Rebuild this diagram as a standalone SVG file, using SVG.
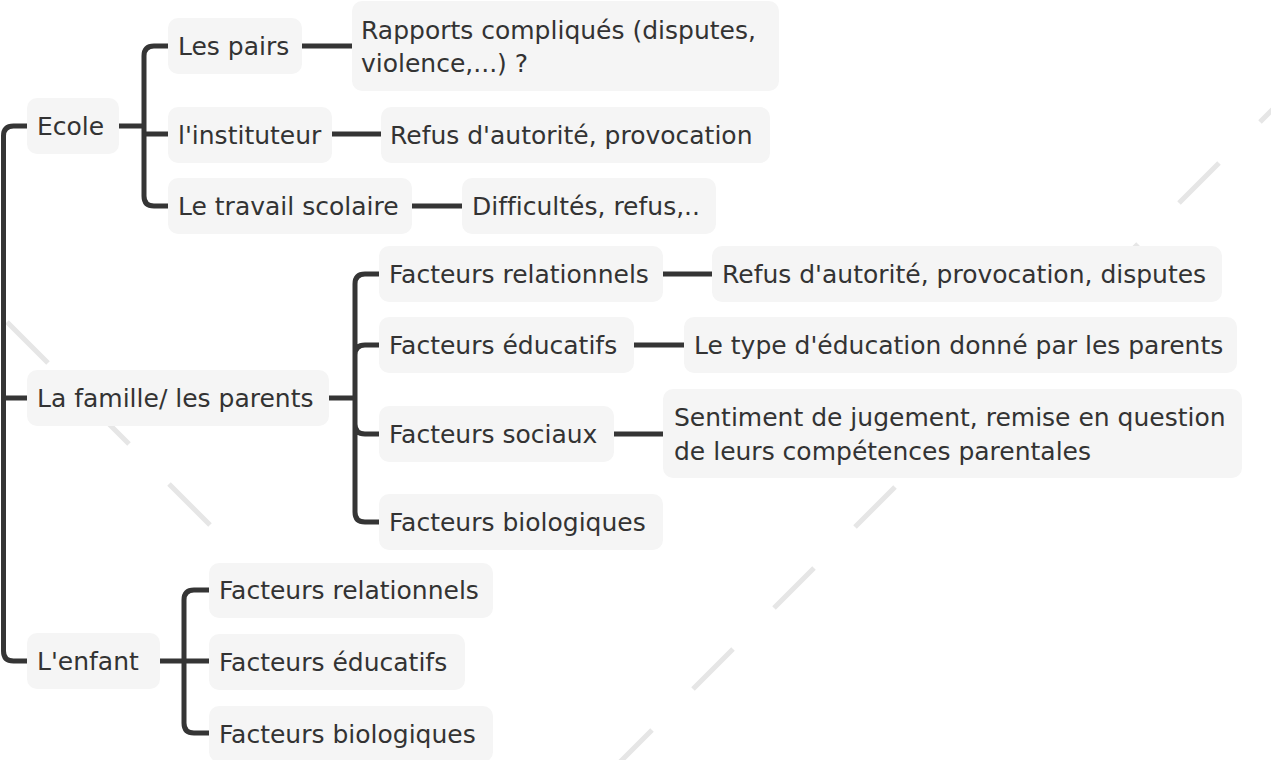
<svg xmlns="http://www.w3.org/2000/svg" width="1271" height="760" viewBox="0 0 1271 760">
<style>
.bg{stroke:#e6e6e6;stroke-width:5;fill:none}
.n rect{fill:#f5f5f5}
.n text{font-family:"DejaVu Sans","Liberation Sans",sans-serif;font-size:25px;fill:#333333;font-variant-ligatures:none}
.c path{fill:none;stroke:#353535;stroke-width:5;stroke-linecap:butt;stroke-linejoin:round}
</style>
<rect width="1271" height="760" fill="#ffffff"/>
<g id="background">
<path class="bg" d="M7,322 L48,363 M88,403 L129,444 M169,484 L210,525 M250,565 L291,606 M331,646 L372,687 M412,727 L453,768"/>
<path class="bg" d="M612,770 L652,730 M693,689 L733,649 M774,608 L814,568 M855,527 L895,487 M936,446 L976,406 M1017,365 L1057,325 M1098,284 L1138,244 M1179,203 L1219,163 M1260,122 L1300,82"/>
</g>
<g id="connectors" class="c">
<path d="M27,126 H13.5 Q3.5,126 3.5,136 V651 Q3.5,661 13.5,661 H27 M3.5,398 H27"/>
<path d="M119,126 H144 M144,126 V56 Q144,46 154,46 H168 M144,126 V134 H168 M144,126 V196 Q144,206 154,206 H168"/>
<path d="M302,46 H352 M332,134 H381 M412,206 H462"/>
<path d="M329,398 H355 M355,398 V284 Q355,274 365,274 H379 M355,398 V355 Q355,345 365,345 H379 M355,398 V424 Q355,434 365,434 H379 M355,398 V512 Q355,522 365,522 H379"/>
<path d="M663,274 H712 M634,345 H684 M614,434 H663"/>
<path d="M160,661 H209 M184,661 V600 Q184,590 194,590 H209 M184,661 V723 Q184,733 194,733 H209"/>
</g>
<g id="n-ecole" class="n"><rect x="27" y="98" width="92" height="56" rx="10"/><text x="37" y="135">Ecole</text></g>
<g id="n-pairs" class="n"><rect x="168" y="18" width="134" height="56" rx="10"/><text x="178" y="55">Les pairs</text></g>
<g id="n-instituteur" class="n"><rect x="168" y="107" width="164" height="56" rx="10"/><text x="178" y="143.5">l'instituteur</text></g>
<g id="n-travail" class="n"><rect x="168" y="178" width="244" height="56" rx="10"/><text x="178" y="215">Le travail scolaire</text></g>
<g id="n-rapports" class="n"><rect x="352" y="1" width="427" height="90" rx="10"/><text x="361" y="39">Rapports compliqués (disputes,</text><text x="361" y="72">violence,...) ?</text></g>
<g id="n-refus1" class="n"><rect x="381" y="107" width="389" height="56" rx="10"/><text x="390" y="143.5">Refus d'autorité, provocation</text></g>
<g id="n-difficultes" class="n"><rect x="462" y="178" width="254" height="56" rx="10"/><text x="472" y="215">Difficultés, refus,..</text></g>
<g id="n-famille" class="n"><rect x="27" y="370" width="302" height="56" rx="10"/><text x="37" y="407">La famille/ les parents</text></g>
<g id="n-f-relationnels" class="n"><rect x="379" y="246" width="284" height="56" rx="10"/><text x="389" y="283">Facteurs relationnels</text></g>
<g id="n-f-educatifs" class="n"><rect x="379" y="317" width="255" height="56" rx="10"/><text x="389" y="354">Facteurs éducatifs</text></g>
<g id="n-f-sociaux" class="n"><rect x="379" y="406" width="235" height="56" rx="10"/><text x="389" y="443">Facteurs sociaux</text></g>
<g id="n-f-biologiques" class="n"><rect x="379" y="494" width="284" height="56" rx="10"/><text x="389" y="531">Facteurs biologiques</text></g>
<g id="n-refus2" class="n"><rect x="712" y="246" width="510" height="56" rx="10"/><text x="722" y="283">Refus d'autorité, provocation, disputes</text></g>
<g id="n-type" class="n"><rect x="684" y="317" width="553" height="56" rx="10"/><text x="694" y="354">Le type d'éducation donné par les parents</text></g>
<g id="n-sentiment" class="n"><rect x="663" y="389" width="579" height="89" rx="10"/><text x="674" y="426">Sentiment de jugement, remise en question</text><text x="674" y="460">de leurs compétences parentales</text></g>
<g id="n-enfant" class="n"><rect x="27" y="633" width="133" height="56" rx="10"/><text x="37" y="670">L'enfant</text></g>
<g id="n-e-relationnels" class="n"><rect x="209" y="563" width="284" height="55" rx="10"/><text x="219" y="599">Facteurs relationnels</text></g>
<g id="n-e-educatifs" class="n"><rect x="209" y="634" width="256" height="56" rx="10"/><text x="219" y="671">Facteurs éducatifs</text></g>
<g id="n-e-biologiques" class="n"><rect x="209" y="706" width="284" height="56" rx="10"/><text x="219" y="743">Facteurs biologiques</text></g>
</svg>
